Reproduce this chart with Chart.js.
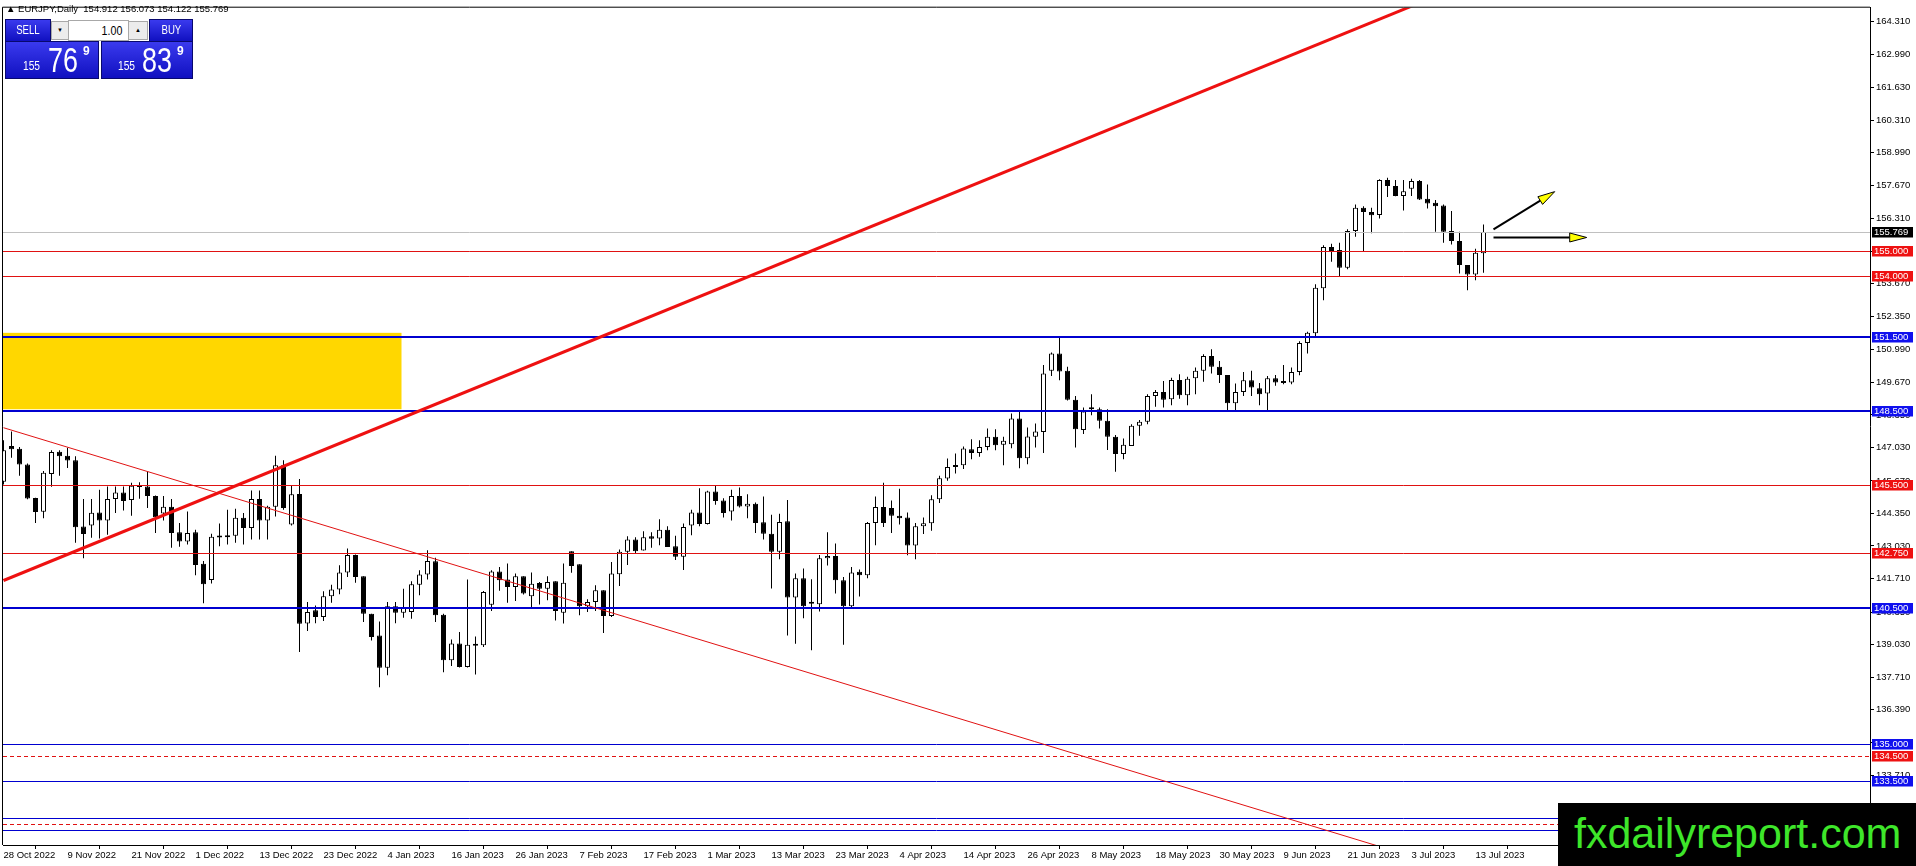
<!DOCTYPE html>
<html>
<head>
<meta charset="utf-8">
<title>EURJPY Daily</title>
<script src="https://cdn.jsdelivr.net/npm/chart.js@4.4.0/dist/chart.umd.min.js"></script>
<style>
  html, body { margin: 0; padding: 0; background: #fff; }
  #wrap { position: relative; width: 1916px; height: 866px; overflow: hidden; font-family: "Liberation Sans", Arial, sans-serif; }
  #chart { position: absolute; left: 0; top: 0; }
  #hdr { position: absolute; left: 6px; top: 3px; font-size: 9.5px; color: #000; white-space: pre; }
  .blue { position: absolute; background: linear-gradient(#3a3aee, #1010c0); border: 1px solid #08086e; box-sizing: border-box; color: #fff; }
  .lbl { font-size: 13px; line-height: 20px; text-align: center; }
  .lbl span { display: inline-block; transform: scaleX(0.74); }
  .spin { position: absolute; top: 21px; height: 19px; background: #ececec; border: 1px solid #a8a8a8; box-sizing: border-box; font-size: 6px; line-height: 17px; text-align: center; color: #000; }
  #lot { position: absolute; left: 68px; top: 20px; width: 61px; height: 21px; background: #fff; border: 1px solid #a8a8a8; box-sizing: border-box; font-size: 13px; line-height: 19px; text-align: right; padding-right: 6px; color: #000; }
  #lot span { display: inline-block; transform: scaleX(0.82); transform-origin: right; }
  .px { white-space: nowrap; }
  .px span { position: absolute; display: inline-block; transform-origin: left; }
  .px .s { top: 18px; font-size: 12px; line-height: 12px; transform: scaleX(0.85); }
  .px .b { top: 0; font-size: 35px; line-height: 35px; transform: scaleX(0.77); }
  .px .p { top: 3px; font-size: 12px; line-height: 12px; font-weight: bold; }
  #logo { position: absolute; left: 1558px; top: 803px; width: 358px; height: 63px; background: #000; color: #3ee62a; font-size: 43px; line-height: 60px; padding-left: 16px; box-sizing: border-box; white-space: nowrap; }
</style>
</head>
<body>
<div id="wrap">
  <canvas id="chart" width="1916" height="866"></canvas>
  <div id="hdr">▲ EURJPY,Daily  154.912 156.073 154.122 155.769</div>
  <div class="blue lbl" style="left:5px;top:19px;width:46px;height:23px;"><span>SELL</span></div>
  <div class="spin" style="left:51px;width:18px;">▼</div>
  <div id="lot"><span>1.00</span></div>
  <div class="spin" style="left:128px;width:20px;">▲</div>
  <div class="blue lbl" style="left:149px;top:19px;width:44px;height:23px;"><span>BUY</span></div>
  <div class="blue px" style="left:5px;top:41px;width:94px;height:38px;">
    <span class="s" style="left:17px;">155</span><span class="b" style="left:42px;">76</span><span class="p" style="left:77px;">9</span>
  </div>
  <div class="blue px" style="left:101px;top:41px;width:92px;height:38px;">
    <span class="s" style="left:16px;">155</span><span class="b" style="left:40px;">83</span><span class="p" style="left:75px;">9</span>
  </div>
  <div id="logo">fxdailyreport.com</div>
</div>
<script>
// daily bars, 28 Oct 2022 .. 14 Jul 2023 (one per weekday)
const opens = [
  145.64,147.09,146.98,146.34,144.98,144.42,145.95,146.85,146.69,146.51,
  143.82,143.86,144.39,144.06,144.94,145.20,144.90,145.44,145.44,145.06,
  144.35,144.62,143.59,143.21,143.59,142.31,141.65,143.39,143.39,143.45,
  144.18,143.76,144.94,144.06,144.62,146.31,143.90,145.14,139.88,140.42,
  140.15,140.99,141.26,141.95,142.66,141.80,140.28,139.40,138.09,140.58,
  140.32,140.35,141.46,141.87,142.41,140.24,138.39,139.07,138.12,138.98,
  139.00,140.65,142.00,141.67,141.37,141.80,140.99,141.53,141.30,141.60,
  140.32,142.82,142.29,140.58,140.76,141.23,140.19,141.88,142.80,143.29,
  142.85,143.43,143.33,143.69,143.02,142.59,143.86,144.39,143.92,145.24,
  144.88,144.43,145.06,144.63,144.74,143.99,143.53,142.80,144.03,140.94,
  141.72,140.73,140.67,142.53,142.62,141.64,140.58,141.98,141.84,143.96,
  144.61,144.57,144.26,144.19,143.05,143.83,143.95,144.93,145.77,146.24,
  146.31,146.96,146.80,147.05,147.46,147.14,147.16,148.20,146.59,147.46,
  147.66,150.14,150.84,150.14,148.96,147.74,148.58,148.58,148.11,147.46,
  146.76,147.09,147.91,148.07,149.12,149.28,148.99,149.77,149.15,149.84,
  150.14,150.74,150.30,149.97,148.82,149.28,149.76,149.43,149.22,149.84,
  149.64,149.66,150.09,151.27,151.66,153.49,155.16,155.04,154.32,155.81,
  156.76,156.58,156.46,157.88,157.64,157.23,157.53,157.84,157.12,156.96,
  156.85,155.81,155.41,154.43,154.05,154.912
];
const highs = [
  147.32,147.68,147.05,146.38,144.99,146.07,146.92,146.92,147.02,146.67,
  144.94,144.94,145.31,145.44,145.44,145.44,145.60,145.62,146.04,145.08,
  145.06,144.94,143.96,144.43,143.69,142.42,143.53,143.94,144.50,144.54,
  144.37,145.28,145.28,144.66,146.69,146.51,145.47,145.75,140.76,140.62,
  141.19,141.46,142.25,142.93,142.68,141.80,140.28,139.97,140.76,140.76,
  141.30,141.60,142.05,142.86,142.55,140.28,139.24,139.54,141.67,139.36,
  141.20,142.05,142.18,142.32,141.91,141.80,141.95,141.57,141.80,141.60,
  142.32,142.82,142.29,140.87,141.44,141.23,142.38,142.89,143.43,143.39,
  143.63,143.59,144.12,143.83,143.45,143.94,144.50,145.37,145.27,145.51,
  144.97,145.31,145.40,145.13,144.80,145.04,144.30,144.34,144.90,141.91,
  142.12,141.68,142.66,143.59,143.13,141.77,142.18,142.08,144.00,145.04,
  145.60,144.88,145.35,144.39,143.96,144.19,145.09,145.88,146.58,146.78,
  147.07,147.36,147.32,147.80,147.77,147.46,148.41,148.47,147.84,148.00,
  150.38,150.88,151.55,150.30,149.12,148.65,149.19,148.65,148.58,147.53,
  147.39,147.97,148.14,149.19,149.36,149.73,149.86,150.00,149.90,150.27,
  150.81,151.01,150.54,149.97,149.62,150.09,150.14,149.64,149.93,149.97,
  150.38,150.27,151.34,151.72,153.65,155.23,155.30,155.34,155.88,156.89,
  156.82,156.76,157.91,157.97,157.88,157.88,157.93,157.88,157.70,157.07,
  156.89,156.62,155.78,154.43,155.09,156.073
];
const lows = [
  145.53,146.61,145.88,144.93,143.96,144.16,145.43,145.88,146.20,143.16,
  142.53,143.36,143.33,143.49,144.37,144.47,144.26,144.95,144.57,143.56,
  144.06,142.96,143.00,143.09,141.84,140.71,141.51,143.02,143.09,143.16,
  143.09,143.29,143.29,143.29,144.23,144.50,143.86,138.73,139.58,139.90,
  139.99,140.73,141.07,141.77,141.54,139.95,139.20,137.30,137.78,139.90,
  140.12,140.08,141.03,141.67,139.95,137.91,138.16,138.10,138.10,137.82,
  138.93,140.39,141.21,140.73,140.80,141.06,140.53,140.66,140.83,140.01,
  139.88,141.94,140.22,140.35,140.39,139.50,140.15,141.41,142.26,142.75,
  142.85,142.96,143.06,142.99,142.46,142.06,143.47,143.83,143.90,144.70,
  144.19,144.06,144.59,144.16,143.56,143.29,141.31,142.49,139.40,139.06,
  140.10,138.80,140.37,142.24,141.10,139.02,140.54,140.98,141.72,143.06,
  143.80,143.56,143.90,142.65,142.49,143.52,143.65,144.77,145.68,145.97,
  146.15,146.55,146.65,146.92,146.92,146.31,147.00,146.19,146.35,147.03,
  146.80,149.93,149.76,148.93,147.03,147.57,148.34,147.80,146.93,146.04,
  146.55,147.09,147.50,147.97,148.68,148.65,148.74,149.01,148.74,149.19,
  149.70,150.03,149.64,148.51,148.51,149.12,149.12,148.74,148.51,149.53,
  149.59,149.59,149.96,150.84,151.53,153.00,154.57,153.99,154.26,155.58,
  155.00,155.72,156.32,157.19,157.22,156.65,157.23,157.07,156.73,155.78,
  155.34,155.27,154.09,153.41,153.81,154.122
];
const closes = [
  146.92,146.96,146.34,144.96,144.41,146.00,146.84,146.67,146.50,143.79,
  143.52,144.38,144.06,144.94,145.20,144.86,145.47,145.42,145.06,144.20,
  144.62,143.56,143.21,143.56,142.26,141.48,143.41,143.37,143.42,144.18,
  143.76,144.94,144.06,144.62,146.31,144.57,145.13,139.87,140.35,140.15,
  140.99,141.26,141.95,142.66,141.77,140.28,139.34,138.09,140.58,140.32,
  140.53,141.48,141.87,142.42,140.22,138.39,139.07,138.12,139.02,139.02,
  141.16,142.00,141.64,141.37,141.80,141.10,141.50,141.30,141.57,140.39,
  141.54,142.22,140.58,140.76,141.23,140.19,141.91,142.80,143.29,142.82,
  143.39,143.32,143.69,142.99,142.59,143.80,144.39,143.92,145.24,144.86,
  144.37,145.06,144.63,144.74,143.96,143.53,142.80,144.00,140.94,141.72,
  140.58,140.69,142.53,142.62,141.64,140.58,141.95,141.84,143.96,144.61,
  143.96,144.26,144.16,143.05,143.83,143.95,144.93,145.78,146.24,146.32,
  146.99,146.80,147.05,147.46,147.12,147.30,148.20,146.59,147.47,147.68,
  150.03,150.84,150.11,148.96,147.77,148.49,148.60,148.11,147.46,146.76,
  147.14,147.91,148.07,149.12,149.28,148.96,149.77,149.15,149.82,150.14,
  150.74,150.30,149.97,148.82,149.28,149.76,149.46,149.19,149.84,149.66,
  149.66,150.09,151.27,151.68,153.51,155.16,155.00,154.32,155.81,156.76,
  156.58,156.45,157.88,157.64,157.23,157.43,157.84,157.09,156.93,156.82,
  155.78,155.41,154.43,154.05,154.93,155.769
];

// bottom axis labels, one every 8 bars starting at the first bar
const tickLabels = [
  "28 Oct 2022","9 Nov 2022","21 Nov 2022","1 Dec 2022","13 Dec 2022","23 Dec 2022",
  "4 Jan 2023","16 Jan 2023","26 Jan 2023","7 Feb 2023","17 Feb 2023","1 Mar 2023",
  "13 Mar 2023","23 Mar 2023","4 Apr 2023","14 Apr 2023","26 Apr 2023","8 May 2023",
  "18 May 2023","30 May 2023","9 Jun 2023","21 Jun 2023","3 Jul 2023","13 Jul 2023"
];
const priceTicks = [
  164.31,162.99,161.63,160.31,158.99,157.67,156.31,154.99,153.67,152.35,150.99,149.67,
  148.35,147.03,145.67,144.35,143.03,141.71,140.35,139.03,137.71,136.39,135.07,133.71,132.39
];

// drawn objects
const bidLine = 155.769;
const redLevels = [155.0, 154.0, 145.5, 142.75];
const blueThickLevels = [151.5, 148.5, 140.5];
const blueThinLevels = [135.0, 133.5, 132.0, 131.5];
const redDashedLevels = [134.5, 131.75];
const zoneBars = [-3, 49.75];
const zonePrices = [148.58, 151.68];
const upTrend = [[0, 141.63], [185, 166.13]];
const downTrend = [[0, 147.83], [175, 130.54]];
const arrowUp = [[186.25, 155.88], [193.9, 157.41]];
const arrowFlat = [[186.25, 155.55], [197.9, 155.55]];

const RED = "#e01212";
const BLUE = "#0000d0";
const FONT = "Liberation Sans, Arial, sans-serif";

function hLine(ctx, a, y, v, color, width, dash) {
  const py = Math.round(y.getPixelForValue(v)) + (width % 2 ? 0.5 : 0);
  ctx.save();
  ctx.strokeStyle = color;
  ctx.lineWidth = width;
  ctx.setLineDash(dash || []);
  ctx.beginPath();
  ctx.moveTo(a.left, py);
  ctx.lineTo(a.right, py);
  ctx.stroke();
  ctx.restore();
}

function segment(ctx, x, y, pts, color, width) {
  ctx.save();
  ctx.strokeStyle = color;
  ctx.lineWidth = width;
  ctx.beginPath();
  ctx.moveTo(x.getPixelForValue(pts[0][0]), y.getPixelForValue(pts[0][1]));
  ctx.lineTo(x.getPixelForValue(pts[1][0]), y.getPixelForValue(pts[1][1]));
  ctx.stroke();
  ctx.restore();
}

function arrow(ctx, x, y, pts) {
  const x0 = x.getPixelForValue(pts[0][0]), y0 = y.getPixelForValue(pts[0][1]);
  const x1 = x.getPixelForValue(pts[1][0]), y1 = y.getPixelForValue(pts[1][1]);
  const ang = Math.atan2(y1 - y0, x1 - x0);
  const len = 17, half = 4.5;
  const bx = x1 - len * Math.cos(ang), by = y1 - len * Math.sin(ang);
  ctx.save();
  ctx.strokeStyle = "#000";
  ctx.lineWidth = 2;
  ctx.beginPath();
  ctx.moveTo(x0, y0);
  ctx.lineTo(bx, by);
  ctx.stroke();
  ctx.beginPath();
  ctx.moveTo(x1, y1);
  ctx.lineTo(bx + half * Math.sin(ang), by - half * Math.cos(ang));
  ctx.lineTo(bx - half * Math.sin(ang), by + half * Math.cos(ang));
  ctx.closePath();
  ctx.fillStyle = "#ffff00";
  ctx.fill();
  ctx.lineWidth = 1;
  ctx.stroke();
  ctx.restore();
}

function tag(ctx, y, v, bg) {
  const py = Math.round(y.getPixelForValue(v));
  ctx.fillStyle = bg;
  ctx.fillRect(1872, py - 5, 41, 10.5);
  ctx.fillStyle = "#fff";
  ctx.font = "9.5px " + FONT;
  ctx.textBaseline = "middle";
  ctx.textAlign = "left";
  ctx.fillText(v.toFixed(3), 1874, py + 0.5);
}

const objects = {
  id: "objects",
  beforeDatasetsDraw(chart) {
    const { ctx, chartArea: a, scales: { x, y } } = chart;
    ctx.save();
    ctx.beginPath();
    ctx.rect(a.left, a.top, a.right - a.left, a.bottom - a.top);
    ctx.clip();
    const left = x.getPixelForValue(zoneBars[0]), right = x.getPixelForValue(zoneBars[1]);
    const top = y.getPixelForValue(zonePrices[1]), bottom = y.getPixelForValue(zonePrices[0]);
    ctx.fillStyle = "#ffd700";
    ctx.fillRect(left, top, right - left, bottom - top);
    ctx.restore();
  },
  afterDatasetsDraw(chart) {
    const { ctx, chartArea: a, scales: { x, y } } = chart;
    ctx.save();
    ctx.beginPath();
    ctx.rect(a.left, a.top, a.right - a.left, a.bottom - a.top);
    ctx.clip();
    hLine(ctx, a, y, bidLine, "#c0c0c0", 1);
    redLevels.forEach(v => hLine(ctx, a, y, v, RED, 1));
    redDashedLevels.forEach(v => hLine(ctx, a, y, v, RED, 1, [4, 3]));
    blueThinLevels.forEach(v => hLine(ctx, a, y, v, BLUE, 1));
    blueThickLevels.forEach(v => hLine(ctx, a, y, v, BLUE, 2));
    segment(ctx, x, y, downTrend, RED, 1);
    segment(ctx, x, y, upTrend, "#ee1111", 3);
    arrow(ctx, x, y, arrowUp);
    arrow(ctx, x, y, arrowFlat);
    ctx.restore();
  },
  afterDraw(chart) {
    const { ctx, chartArea: a, scales: { y } } = chart;
    ctx.save();
    ctx.strokeStyle = "#000";
    ctx.lineWidth = 1;
    ctx.beginPath();
    ctx.moveTo(a.left - 0.5, a.bottom);
    ctx.lineTo(a.left - 0.5, a.top - 0.5);
    ctx.lineTo(a.right, a.top - 0.5);
    ctx.stroke();
    tag(ctx, y, bidLine, "#000");
    redLevels.concat(redDashedLevels).forEach(v => tag(ctx, y, v, "#ee1111"));
    blueThickLevels.concat(blueThinLevels).forEach(v => tag(ctx, y, v, "#1010ee"));
    ctx.restore();
  }
};

const bullOrBear = c => closes[c.dataIndex] >= opens[c.dataIndex] ? "#ffffff" : "#000000";

new Chart(document.getElementById("chart"), {
  type: "bar",
  data: {
    datasets: [
      {
        label: "body",
        data: opens.map((o, i) => ({ x: i, y: [o, closes[i]] })),
        backgroundColor: bullOrBear,
        borderColor: "#000",
        borderWidth: 1,
        borderSkipped: false,
        barThickness: 5,
        minBarLength: 2,
        grouped: false,
        inflateAmount: 0
      },
      {
        label: "wick",
        data: lows.map((l, i) => ({ x: i, y: [l, highs[i]] })),
        backgroundColor: "#000",
        borderWidth: 0,
        barThickness: 1,
        grouped: false,
        inflateAmount: 0
      }
    ]
  },
  options: {
    responsive: false,
    animation: false,
    devicePixelRatio: 1,
    events: [],
    layout: { padding: { left: 3, top: 3, right: 0, bottom: 0 } },
    plugins: { legend: { display: false }, tooltip: { enabled: false } },
    scales: {
      x: {
        type: "linear",
        offset: false,
        min: -0.0625,
        max: 233.3125,
        afterBuildTicks: s => { s.ticks = tickLabels.map((_, k) => ({ value: k * 8 })); },
        afterFit: s => { s.height = 21; },
        grid: { drawOnChartArea: false, drawTicks: true, tickLength: 4, color: "#000" },
        border: { display: true, color: "#000" },
        ticks: {
          autoSkip: false,
          maxRotation: 0,
          align: "start",
          padding: 1,
          color: "#000",
          font: { family: FONT, size: 9.5 },
          callback: v => tickLabels[v / 8]
        }
      },
      y: {
        type: "linear",
        position: "right",
        min: 130.896,
        max: 164.875,
        afterBuildTicks: s => { s.ticks = priceTicks.map(v => ({ value: v })); },
        afterFit: s => { s.width = 46; },
        grid: { drawOnChartArea: false, drawTicks: true, tickLength: 4, color: "#000" },
        border: { display: true, color: "#000" },
        ticks: {
          autoSkip: false,
          padding: 2,
          color: "#000",
          font: { family: FONT, size: 9.5 },
          callback: v => v.toFixed(3)
        }
      }
    }
  },
  plugins: [objects]
});
</script>
</body>
</html>
